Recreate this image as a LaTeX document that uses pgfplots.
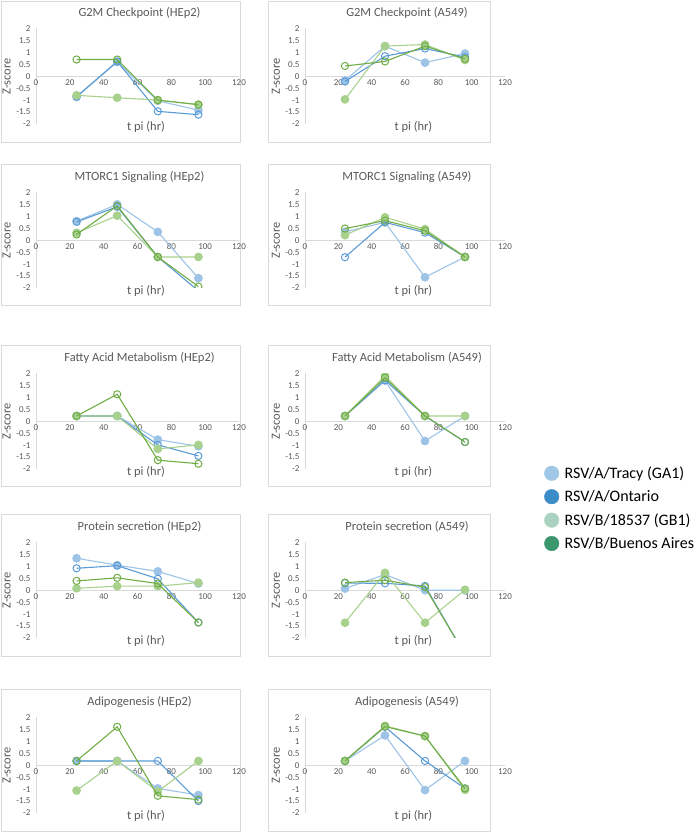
\documentclass[border=0pt]{standalone}
\usepackage{fontspec}
\setmainfont{Carlito}
\usepackage{pgfplots}
\pgfplotsset{compat=1.18}

\definecolor{cTr}{HTML}{9DC3E6}
\definecolor{cOn}{HTML}{5B9BD5}
\definecolor{cGb}{HTML}{A9D18E}
\definecolor{cBa}{HTML}{70AD47}
\definecolor{lTr}{HTML}{A0C8E6}
\definecolor{lOn}{HTML}{3C8CC8}
\definecolor{lGb}{HTML}{AAD2BE}
\definecolor{lBa}{HTML}{3C966E}
\definecolor{txt}{HTML}{595959}
\definecolor{axgray}{HTML}{D9D9D9}

\pgfplotsset{
  panel/.style={
    scale only axis, height=95.5pt,
    xmin=0, xmax=120, ymin=-2, ymax=2,
    axis x line=middle, axis y line=left,
    axis line style={draw=axgray, line width=0.8pt, -},
    xtick={0,20,40,60,80,100,120},
    ytick={-2,-1.5,-1,-0.5,0,0.5,1,1.5,2},
    major tick length=0pt,
    hide obscured x ticks=false, hide obscured y ticks=false,
    /pgf/number format/assume math mode=true,
    tick label style={font=\fontsize{9}{10}\selectfont, text=txt},
    yticklabel style={anchor=east, xshift=-2pt},
    xticklabel style={anchor=north},
    xlabel={t pi (hr)}, ylabel={Z-score},
    every axis title/.style={at={(axis description cs:0.51,1.165)}, anchor=center,
      font=\fontsize{12.5}{14}\selectfont, text=txt},
    xlabel style={at={(axis description cs:0.542,-0.032)}, anchor=center,
      font=\fontsize{12.5}{14}\selectfont, text=txt},
    ylabel style={at={(axis description cs:-0.145,0.5)}, anchor=center,
      font=\fontsize{12.5}{14}\selectfont, text=txt},
    clip marker paths=true,
    every axis plot/.append style={line width=1.1pt},
  },
  lcol/.style={panel, width=203pt},
  rcol/.style={panel, width=200pt},
  tr/.style={cTr, mark=*, mark size=3.8pt, mark options={fill=cTr}},
  on/.style={cOn, mark=o, mark size=3.6pt, mark options={line width=1pt}},
  gb/.style={cGb, mark=*, mark size=3.8pt, mark options={fill=cGb}},
  ba/.style={cBa, mark=o, mark size=3.6pt, mark options={line width=1pt}},
}

\begin{document}
\begin{tikzpicture}
\path[use as bounding box] (0pt,0pt) rectangle (696pt,832pt);

% panel frames
\foreach \yt/\yb in {831/690, 668/527, 487/346, 318/176, 143/1} {
  \draw[axgray, line width=0.8pt] (1pt,\yb pt) rectangle (240pt,\yt pt);
  \draw[axgray, line width=0.8pt] (268pt,\yb pt) rectangle (490pt,\yt pt);
}

% ---- row 1: G2M Checkpoint
\begin{axis}[lcol, at={(36pt,708pt)}, anchor=south west, title={G2M Checkpoint (HEp2)}]
\addplot[tr] coordinates {(24,-0.87)(48,0.6)(72,-1.03)(96,-1.42)};
\addplot[on] coordinates {(24,-0.85)(48,0.62)(72,-1.47)(96,-1.61)};
\addplot[gb] coordinates {(24,-0.8)(48,-0.9)(72,-1.0)(96,-1.19)};
\addplot[ba] coordinates {(24,0.7)(48,0.7)(72,-1.0)(96,-1.19)};
\end{axis}
\begin{axis}[rcol, at={(305pt,708pt)}, anchor=south west, title={G2M Checkpoint (A549)}]
\addplot[tr] coordinates {(24,-0.18)(48,1.26)(72,0.57)(96,0.95)};
\addplot[on] coordinates {(24,-0.22)(48,0.84)(72,1.16)(96,0.8)};
\addplot[gb] coordinates {(24,-0.97)(48,1.26)(72,1.33)(96,0.68)};
\addplot[ba] coordinates {(24,0.43)(48,0.62)(72,1.26)(96,0.73)};
\end{axis}

% ---- row 2: MTORC1 Signaling
\begin{axis}[lcol, at={(36pt,544pt)}, anchor=south west, title={MTORC1 Signaling (HEp2)}]
\addplot[tr] coordinates {(24,0.8)(48,1.5)(72,0.35)(96,-1.59)};
\addplot[on] coordinates {(24,0.77)(48,1.4)(72,-0.7)(96,-2.12)};
\addplot[gb] coordinates {(24,0.31)(48,1.03)(72,-0.7)(96,-0.7)};
\addplot[ba] coordinates {(24,0.24)(48,1.44)(72,-0.7)(96,-1.94)};
\end{axis}
\begin{axis}[rcol, at={(305pt,544pt)}, anchor=south west, title={MTORC1 Signaling (A549)}]
\addplot[tr] coordinates {(24,0.35)(48,0.75)(72,-1.55)(96,-0.7)};
\addplot[on] coordinates {(24,-0.71)(48,0.75)(72,0.32)(96,-0.7)};
\addplot[gb] coordinates {(24,0.21)(48,0.96)(72,0.47)(96,-0.7)};
\addplot[ba] coordinates {(24,0.49)(48,0.82)(72,0.4)(96,-0.7)};
\end{axis}

% ---- row 3: Fatty Acid Metabolism
\begin{axis}[lcol, at={(36pt,363pt)}, anchor=south west, title={Fatty Acid Metabolism (HEp2)}]
\addplot[tr] coordinates {(24,0.22)(48,0.22)(72,-0.77)(96,-1.05)};
\addplot[on] coordinates {(24,0.22)(48,0.22)(72,-0.99)(96,-1.45)};
\addplot[gb] coordinates {(24,0.22)(48,0.22)(72,-1.16)(96,-0.99)};
\addplot[ba] coordinates {(24,0.22)(48,1.13)(72,-1.63)(96,-1.78)};
\end{axis}
\begin{axis}[rcol, at={(305pt,363pt)}, anchor=south west, title={Fatty Acid Metabolism (A549)}]
\addplot[tr] coordinates {(24,0.22)(48,1.7)(72,-0.83)(96,0.22)};
\addplot[on] coordinates {(24,0.22)(48,1.72)(72,0.22)(96,-0.87)};
\addplot[gb] coordinates {(24,0.22)(48,1.9)(72,0.22)(96,0.22)};
\addplot[ba] coordinates {(24,0.22)(48,1.82)(72,0.22)(96,-0.87)};
\end{axis}

% ---- row 4: Protein secretion
\begin{axis}[lcol, at={(36pt,194pt)}, anchor=south west, title={Protein secretion (HEp2)}]
\addplot[tr] coordinates {(24,1.34)(48,1.05)(72,0.79)(96,0.28)};
\addplot[on] coordinates {(24,0.92)(48,1.03)(72,0.48)(96,-1.35)};
\addplot[gb] coordinates {(24,0.08)(48,0.17)(72,0.17)(96,0.32)};
\addplot[ba] coordinates {(24,0.39)(48,0.52)(72,0.28)(96,-1.35)};
\end{axis}
\begin{axis}[rcol, at={(305pt,194pt)}, anchor=south west, title={Protein secretion (A549)}]
\addplot[tr] coordinates {(24,0.07)(48,0.66)(72,0)(96,0)};
\addplot[on] coordinates {(24,0.3)(48,0.29)(72,0.18)(96,-2.7)};
\addplot[gb] coordinates {(24,-1.36)(48,0.73)(72,-1.36)(96,0.02)};
\addplot[ba] coordinates {(24,0.32)(48,0.42)(72,0.13)(96,-2.7)};
\end{axis}

% ---- row 5: Adipogenesis
\begin{axis}[lcol, at={(36pt,19pt)}, anchor=south west, title={Adipogenesis (HEp2)}]
\addplot[tr] coordinates {(24,0.18)(48,0.18)(72,-0.97)(96,-1.25)};
\addplot[on] coordinates {(24,0.18)(48,0.18)(72,0.18)(96,-1.5)};
\addplot[gb] coordinates {(24,-1.06)(48,0.18)(72,-1.1)(96,0.18)};
\addplot[ba] coordinates {(24,0.18)(48,1.61)(72,-1.28)(96,-1.44)};
\end{axis}
\begin{axis}[rcol, at={(305pt,19pt)}, anchor=south west, title={Adipogenesis (A549)}]
\addplot[tr] coordinates {(24,0.18)(48,1.25)(72,-1.04)(96,0.18)};
\addplot[on] coordinates {(24,0.18)(48,1.61)(72,0.18)(96,-0.97)};
\addplot[gb] coordinates {(24,0.18)(48,1.65)(72,1.22)(96,-1.03)};
\addplot[ba] coordinates {(24,0.18)(48,1.62)(72,1.22)(96,-0.97)};
\end{axis}

% ---- shared legend (hidden axis covering the legend area)
\begin{axis}[scale only axis, width=150pt, height=100pt, hide axis,
  xmin=0, xmax=1, ymin=0, ymax=1,
  at={(544pt,267pt)}, anchor=south west,
  legend cell align=left,
  legend image code/.code={\fill[#1] (7.3pt,0pt) circle (7.3pt);},
  legend style={at={(axis description cs:0,1)}, anchor=north west,
    draw=none, fill=none, inner sep=0pt, row sep=7.5pt, column sep=4pt,
    font=\fontsize{16}{17}\selectfont,
    nodes={inner sep=1.5pt, text=black}}]
\addlegendimage{lTr}\addlegendentry{RSV/A/Tracy (GA1)}
\addlegendimage{lOn}\addlegendentry{RSV/A/Ontario}
\addlegendimage{lGb}\addlegendentry{RSV/B/18537 (GB1)}
\addlegendimage{lBa}\addlegendentry{RSV/B/Buenos Aires}
\end{axis}
\end{tikzpicture}
\end{document}
